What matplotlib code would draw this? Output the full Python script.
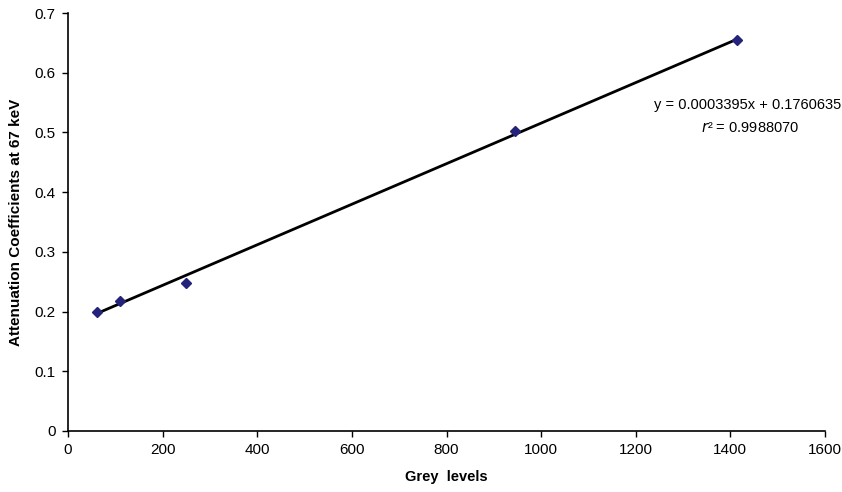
import numpy as np
import matplotlib
matplotlib.use('Agg')
import matplotlib.pyplot as plt

# data
grey_levels = [62, 109, 250, 945, 1414]
atten_coeff = [0.200, 0.217, 0.248, 0.503, 0.655]

# linear trendline as printed on the chart
slope = 0.0003395
intercept = 0.1760635
r_squared = 0.9988070

x_ticks = [0, 200, 400, 600, 800, 1000, 1200, 1400, 1600]
y_ticks = [0, 0.1, 0.2, 0.3, 0.4, 0.5, 0.6, 0.7]

plt.rcParams['font.family'] = ['Liberation Sans', 'DejaVu Sans']

fig = plt.figure(figsize=(8.42, 4.92), dpi=100)
ax = fig.add_axes([68 / 842, 1 - 431 / 492, (825 - 68) / 842, (431 - 13) / 492])

# trendline over the data range
fit_x = np.array([min(grey_levels), max(grey_levels)])
ax.plot(fit_x, slope * fit_x + intercept, color='black', linewidth=2, zorder=2)

ax.plot(grey_levels, atten_coeff, linestyle='none', marker='D', markersize=5.5,
        color='#23237a', zorder=3)

ax.set_xlim(0, 1600)
ax.set_ylim(0, 0.7)
ax.set_xticks(x_ticks)
ax.set_yticks(y_ticks)
ax.set_xticklabels([str(v) for v in x_ticks])
ax.set_yticklabels(['0' if v == 0 else f'{v:.1f}' for v in y_ticks])
ax.tick_params(direction='out', length=4, width=1, labelsize=11, pad=5)

for side in ['top', 'right']:
    ax.spines[side].set_visible(False)
for side in ['left', 'bottom']:
    ax.spines[side].set_linewidth(1.2)

ax.set_xlabel('Grey  levels', fontsize=10.5, fontweight='bold', labelpad=9)
ax.set_ylabel('Attenuation Coefficients at 67 keV', fontsize=11, fontweight='bold', labelpad=8)

# equation box
fig.text(748 / 842, 1 - 105 / 492, f'y = {slope:.7f}x + {intercept:.7f}',
         ha='center', va='center', fontsize=10.5)
fig.text(750 / 842, 1 - 128 / 492, f'$r$² = {r_squared:.7f}',
         ha='center', va='center', fontsize=10.5)

fig.savefig('out.png', dpi=100)
